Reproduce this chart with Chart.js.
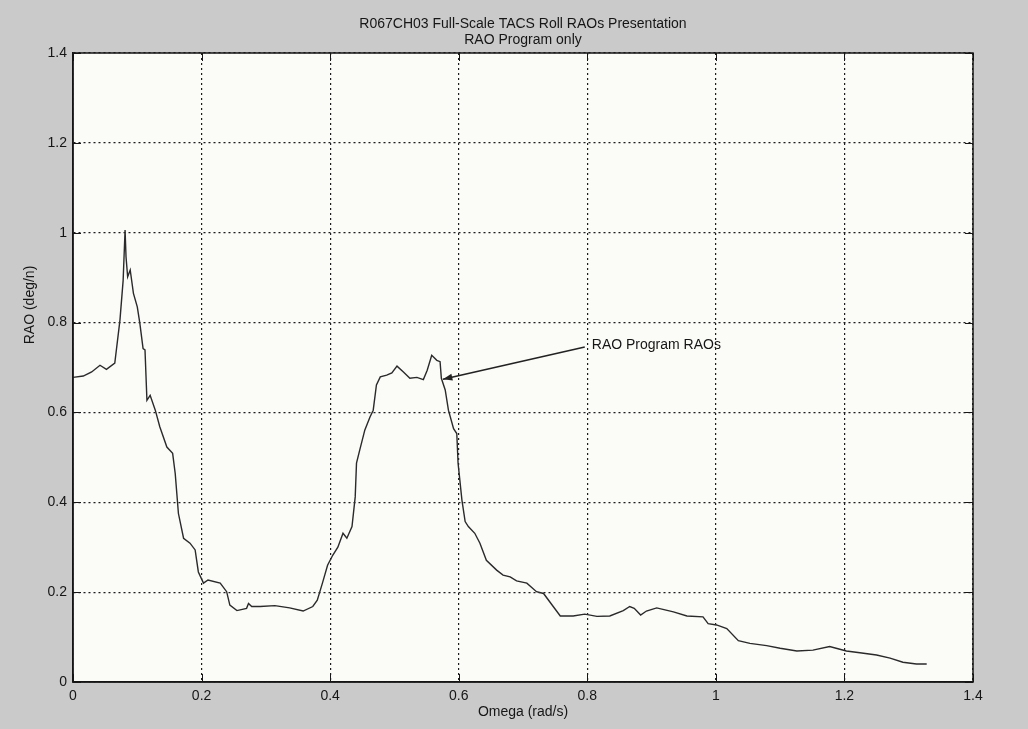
<!DOCTYPE html>
<html>
<head>
<meta charset="utf-8">
<title>R067CH03 Roll RAOs</title>
<script src="https://cdn.jsdelivr.net/npm/chart.js@4.4.1/dist/chart.umd.min.js"></script>
<style>
  html, body { margin: 0; padding: 0; background: #cacaca; }
  #wrap { width: 1028px; height: 729px; }
</style>
</head>
<body>
<div id="wrap"><canvas id="raoChart" width="1028" height="729"></canvas></div>
<script>
// roll RAO curve, omega in rad/s, RAO in deg per unit wave
const omega = [
  0.000, 0.016, 0.029, 0.042, 0.052, 0.065, 0.073, 0.078, 0.081, 0.0825,
  0.085, 0.089, 0.094, 0.100, 0.104, 0.109, 0.112, 0.115, 0.120, 0.128,
  0.135, 0.146, 0.155, 0.159, 0.164, 0.172, 0.182, 0.190, 0.195, 0.203,
  0.210, 0.229, 0.239, 0.244, 0.255, 0.270, 0.273, 0.278, 0.291, 0.314,
  0.337, 0.358, 0.373, 0.380, 0.388, 0.396, 0.404, 0.412, 0.420, 0.426,
  0.434, 0.439, 0.441, 0.446, 0.454, 0.462, 0.467, 0.472, 0.478, 0.488,
  0.496, 0.504, 0.514, 0.524, 0.535, 0.545, 0.551, 0.558, 0.566, 0.571,
  0.573, 0.579, 0.584, 0.592, 0.597, 0.599, 0.605, 0.610, 0.615, 0.625,
  0.633, 0.643, 0.659, 0.669, 0.680, 0.690, 0.706, 0.721, 0.732, 0.747,
  0.758, 0.778, 0.796, 0.815, 0.835, 0.856, 0.866, 0.873, 0.883, 0.892,
  0.908, 0.934, 0.955, 0.980, 0.988, 1.001, 1.017, 1.035, 1.053, 1.079,
  1.100, 1.126, 1.151, 1.177, 1.203, 1.224, 1.250, 1.271, 1.291, 1.312,
  1.328
];
const rao = [
  0.678, 0.681, 0.690, 0.705, 0.696, 0.710, 0.805, 0.894, 1.006, 0.946,
  0.902, 0.917, 0.865, 0.835, 0.798, 0.742, 0.739, 0.627, 0.638, 0.605,
  0.568, 0.523, 0.509, 0.464, 0.375, 0.320, 0.309, 0.294, 0.245, 0.220,
  0.227, 0.220, 0.201, 0.171, 0.159, 0.164, 0.175, 0.168, 0.168, 0.170,
  0.165, 0.158, 0.168, 0.182, 0.220, 0.260, 0.282, 0.300, 0.331, 0.320,
  0.346, 0.412, 0.487, 0.516, 0.561, 0.590, 0.605, 0.661, 0.679, 0.683,
  0.688, 0.703, 0.690, 0.676, 0.678, 0.673, 0.694, 0.727, 0.716, 0.713,
  0.676, 0.650, 0.605, 0.564, 0.553, 0.487, 0.405, 0.357, 0.346, 0.331,
  0.309, 0.271, 0.249, 0.238, 0.234, 0.225, 0.220, 0.201, 0.197, 0.168,
  0.147, 0.147, 0.151, 0.146, 0.147, 0.159, 0.168, 0.164, 0.149, 0.158,
  0.165, 0.156, 0.147, 0.145, 0.130, 0.127, 0.119, 0.092, 0.086, 0.081,
  0.075, 0.069, 0.071, 0.079, 0.069, 0.065, 0.060, 0.053, 0.044, 0.040,
  0.040
];

const xRange = [0, 1.4];
const yRange = [0, 1.4];
const tickStep = 0.2;

const titleLines = ['R067CH03 Full-Scale TACS Roll RAOs Presentation', 'RAO Program only'];
const xLabel = 'Omega (rad/s)';
const yLabel = 'RAO (deg/n)';

// callout: text anchor and arrow tip, in data units
const noteText = 'RAO Program RAOs';
const noteAt = [0.807, 0.750];
const noteTip = [0.5755, 0.674];

const FONT = "'Liberation Sans', Arial, sans-serif";
const INK = '#161616';

const fmt = v => String(+v.toFixed(1));

const frame = {
  id: 'frame',
  beforeDraw(chart) {
    const { ctx, chartArea: a } = chart;
    ctx.save();
    ctx.fillStyle = '#fbfbf8';
    ctx.fillRect(a.left, a.top, a.right - a.left, a.bottom - a.top);
    ctx.restore();
  },
  afterDraw(chart) {
    const { ctx, chartArea: a, scales } = chart;
    const xs = scales.x, ys = scales.y;
    ctx.save();

    // solid box round the axes with inward ticks
    ctx.strokeStyle = INK;
    ctx.lineWidth = 1.5;
    ctx.strokeRect(a.left, a.top, a.right - a.left, a.bottom - a.top);
    ctx.lineWidth = 1;
    ctx.beginPath();
    for (let v = xRange[0]; v <= xRange[1] + 1e-9; v += tickStep) {
      const px = Math.round(xs.getPixelForValue(v)) + 0.5;
      ctx.moveTo(px, a.bottom); ctx.lineTo(px, a.bottom - 8);
      ctx.moveTo(px, a.top); ctx.lineTo(px, a.top + 8);
    }
    for (let v = yRange[0]; v <= yRange[1] + 1e-9; v += tickStep) {
      const py = Math.round(ys.getPixelForValue(v)) + 0.5;
      ctx.moveTo(a.left, py); ctx.lineTo(a.left + 8, py);
      ctx.moveTo(a.right, py); ctx.lineTo(a.right - 8, py);
    }
    ctx.stroke();

    // titles
    ctx.fillStyle = INK;
    ctx.font = '14px ' + FONT;
    ctx.textAlign = 'center';
    ctx.textBaseline = 'middle';
    const cx = (a.left + a.right) / 2;
    ctx.fillText(titleLines[0], cx, 24);
    ctx.fillText(titleLines[1], cx, 40);

    // axis labels
    ctx.fillText(xLabel, cx, 712);
    ctx.save();
    ctx.translate(30, 305);
    ctx.rotate(-Math.PI / 2);
    ctx.fillText(yLabel, 0, 0);
    ctx.restore();

    // callout with arrow
    const tx = xs.getPixelForValue(noteAt[0]);
    const ty = ys.getPixelForValue(noteAt[1]);
    const hx = xs.getPixelForValue(noteTip[0]);
    const hy = ys.getPixelForValue(noteTip[1]);
    ctx.textAlign = 'left';
    ctx.fillText(noteText, tx, ty);
    const sx = tx - 7, sy = ty + 2;
    ctx.strokeStyle = '#222';
    ctx.lineWidth = 1.6;
    ctx.beginPath();
    ctx.moveTo(sx, sy);
    ctx.lineTo(hx, hy);
    ctx.stroke();
    const ang = Math.atan2(hy - sy, hx - sx);
    ctx.fillStyle = '#222';
    ctx.beginPath();
    ctx.moveTo(hx, hy);
    ctx.lineTo(hx - 10 * Math.cos(ang - 0.35), hy - 10 * Math.sin(ang - 0.35));
    ctx.lineTo(hx - 10 * Math.cos(ang + 0.35), hy - 10 * Math.sin(ang + 0.35));
    ctx.closePath();
    ctx.fill();

    ctx.restore();
  }
};

const gridOpts = { color: '#1c1c1c', lineWidth: 1.2, drawTicks: false };
const borderOpts = { color: INK, width: 1.5, dash: [2, 3] };
const tickFont = { family: FONT, size: 14 };

new Chart(document.getElementById('raoChart'), {
  type: 'line',
  data: {
    datasets: [{
      label: 'RAO Program RAOs',
      data: omega.map((w, i) => ({ x: w, y: rao[i] })),
      borderColor: '#2a2a2a',
      borderWidth: 1.4,
      pointRadius: 0,
      tension: 0,
      fill: false
    }]
  },
  options: {
    responsive: false,
    animation: false,
    layout: { padding: { top: 53, right: 55, bottom: 0, left: 0 } },
    plugins: {
      legend: { display: false },
      tooltip: { enabled: false },
      title: { display: false }
    },
    scales: {
      x: {
        type: 'linear',
        min: xRange[0],
        max: xRange[1],
        afterFit(s) { s.height = 47; },
        grid: gridOpts,
        border: borderOpts,
        ticks: { stepSize: tickStep, padding: 6, color: INK, font: tickFont, maxRotation: 0, callback: fmt }
      },
      y: {
        min: yRange[0],
        max: yRange[1],
        afterFit(s) { s.width = 73; },
        grid: gridOpts,
        border: borderOpts,
        ticks: { stepSize: tickStep, padding: 6, color: INK, font: tickFont, callback: fmt }
      }
    }
  },
  plugins: [frame]
});
</script>
</body>
</html>
